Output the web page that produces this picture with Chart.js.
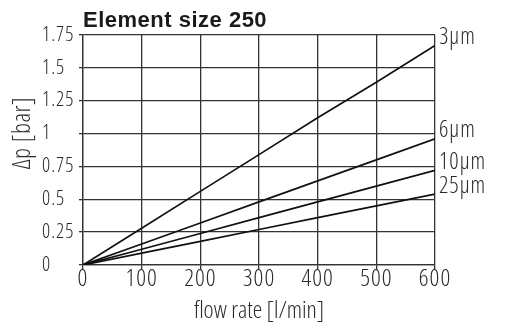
<!DOCTYPE html>
<html>
<head>
<meta charset="utf-8">
<script src="https://cdn.jsdelivr.net/npm/chart.js@4.4.0/dist/chart.umd.min.js"></script>
<style>
  html, body { margin: 0; padding: 0; background: #fff; }
  #wrap { width: 505px; height: 322px; position: relative; }
</style>
</head>
<body>
<div id="wrap"><canvas id="dpChart"></canvas></div>
<script>
// Pressure drop curves, element size 250
const flowRates = [0, 100, 200, 300, 400, 500, 600];
const dp3 = [0, 0.28, 0.56, 0.84, 1.12, 1.39, 1.67];
const dp6 = [0, 0.16, 0.32, 0.48, 0.64, 0.80, 0.96];
const dp10 = [0, 0.12, 0.24, 0.36, 0.48, 0.60, 0.72];
const dp25 = [0, 0.09, 0.18, 0.27, 0.36, 0.45, 0.54];
const seriesNames = ['3\u03bcm', '6\u03bcm', '10\u03bcm', '25\u03bcm'];
const yTickLabels = ['0', '0.25', '0.5', '0.75', '1', '1.25', '1.5', '1.75'];
const xTickLabels = ['0', '100', '200', '300', '400', '500', '600'];

// schmale Schrift: Open Sans über die wdth-Achse verengt
const narrow = "'Open Sans', sans-serif";
const narrowWeight = '350 condensed';
const textColor = '#2a2a2a';

function toPoints(values) {
    return flowRates.map((f, i) => ({ x: f, y: values[i] }));
}

// Zahlen etwas sperren: Ticks (z: 1) werden nach den Linien gezeichnet
const spacingPlugin = {
    id: 'tickSpacing',
    afterDatasetsDraw(chart) { chart.ctx.letterSpacing = '1px'; },
    afterDraw(chart) { chart.ctx.letterSpacing = '0px'; }
};

// Titel, y-Achsentitel und Kurvenbeschriftungen
const labelsPlugin = {
    id: 'dpLabels',
    afterDraw(chart) {
        const ctx = chart.ctx;
        ctx.save();
        ctx.letterSpacing = '0.5px';
        ctx.fillStyle = '#1a1a1a';
        ctx.font = "bold 22px 'Liberation Sans', Arial, sans-serif";
        ctx.textAlign = 'left';
        ctx.textBaseline = 'alphabetic';
        ctx.fillText('Element size 250', chart.chartArea.left, 27);

        ctx.fillStyle = textColor;
        ctx.font = narrowWeight + ' 25px ' + narrow;
        ctx.translate(23, 133);
        ctx.rotate(-Math.PI / 2);
        ctx.textAlign = 'center';
        ctx.textBaseline = 'middle';
        ctx.fillText('\u0394p [bar]', 0, 0);
        ctx.restore();

        ctx.save();
        ctx.letterSpacing = '1px';
        ctx.fillStyle = textColor;
        ctx.font = narrowWeight + ' 23px ' + narrow;
        ctx.textAlign = 'left';
        ctx.textBaseline = 'middle';
        chart.data.datasets.forEach((ds, i) => {
            const meta = chart.getDatasetMeta(i);
            const last = meta.data[meta.data.length - 1];
            ctx.fillText(seriesNames[i], last.x + 4, last.y - 8);
        });
        ctx.restore();
    }
};

const lineStyle = {
    borderColor: '#111',
    borderWidth: 1.7,
    pointRadius: 0,
    fill: false,
    tension: 0
};

new Chart(document.getElementById('dpChart'), {
    type: 'line',
    data: {
        datasets: [
            Object.assign({ label: seriesNames[0], data: toPoints(dp3) }, lineStyle),
            Object.assign({ label: seriesNames[1], data: toPoints(dp6) }, lineStyle),
            Object.assign({ label: seriesNames[2], data: toPoints(dp10) }, lineStyle),
            Object.assign({ label: seriesNames[3], data: toPoints(dp25) }, lineStyle)
        ]
    },
    options: {
        responsive: true,
        maintainAspectRatio: false,
        animation: false,
        layout: {
            padding: { left: 42, right: 70, top: 35, bottom: 0 }
        },
        plugins: {
            legend: { display: false },
            tooltip: { enabled: false },
            title: { display: false }
        },
        scales: {
            x: {
                type: 'linear',
                min: 0,
                max: 600,
                ticks: {
                    stepSize: 100,
                    padding: -5,
                    z: 1,
                    color: textColor,
                    font: { family: narrow, size: 24, weight: narrowWeight },
                    maxRotation: 0,
                    callback: (v, i) => xTickLabels[i]
                },
                grid: {
                    color: '#333',
                    lineWidth: 1.3,
                    tickLength: 5
                },
                border: { color: '#333', width: 1.3 },
                title: {
                    display: true,
                    text: 'flow rate [l/min]',
                    color: textColor,
                    font: { family: narrow, size: 24, weight: narrowWeight },
                    padding: { top: 0, bottom: -4 }
                },
                afterFit(scale) { scale.height = 57; }
            },
            y: {
                min: 0,
                max: 1.75,
                ticks: {
                    stepSize: 0.25,
                    crossAlign: 'far',
                    z: 1,
                    color: textColor,
                    font: { family: narrow, size: 20, weight: narrowWeight },
                    callback: (v, i) => yTickLabels[i]
                },
                grid: {
                    color: '#333',
                    lineWidth: 1.3,
                    tickLength: 4
                },
                border: { color: '#333', width: 1.3 },
                afterFit(scale) { scale.width = 41; }
            }
        }
    },
    plugins: [spacingPlugin, labelsPlugin]
});
</script>
</body>
</html>
